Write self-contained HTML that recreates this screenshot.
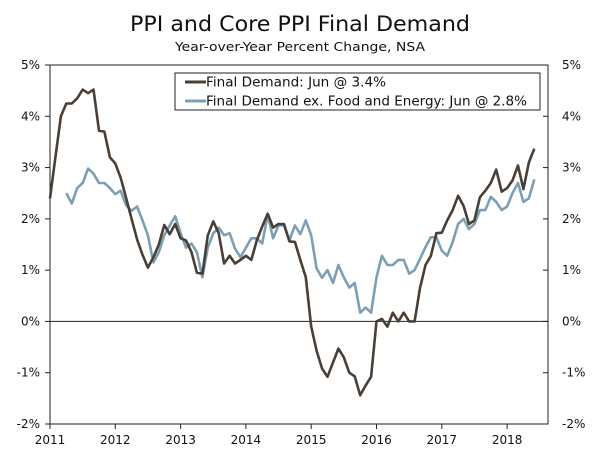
<!DOCTYPE html>
<html><head><meta charset="utf-8">
<style>
body{margin:0;background:#fff;}
svg{display:block;font-family:"DejaVu Sans","Liberation Sans",sans-serif;}
</style></head>
<body>
<svg id="chart" width="600" height="457" viewBox="0 0 600 457">
<text x="300" y="31" text-anchor="middle" font-size="21" textLength="340" lengthAdjust="spacingAndGlyphs" fill="#111">PPI and Core PPI Final Demand</text>
<text x="300" y="51" text-anchor="middle" font-size="12.5" textLength="250" lengthAdjust="spacingAndGlyphs" fill="#111">Year-over-Year Percent Change, NSA</text>
<g id="axes"></g>
<g id="series"></g>
<g>
<rect x="175" y="73" width="365" height="37" fill="#fff" stroke="#222" stroke-width="1"/>
<line x1="185" y1="82" x2="206" y2="82" stroke="#4a3f36" stroke-width="3"/>
<text x="206" y="86.5" font-size="13" textLength="180" lengthAdjust="spacingAndGlyphs" fill="#111">Final Demand: Jun @ 3.4%</text>
<line x1="185" y1="101" x2="206" y2="101" stroke="#7d9fb3" stroke-width="3"/>
<text x="206" y="105.5" font-size="13" textLength="321" lengthAdjust="spacingAndGlyphs" fill="#111">Final Demand ex. Food and Energy: Jun @ 2.8%</text>
</g>
</svg>
<script>
const years = ["2011","2012","2013","2014","2015","2016","2017","2018"];
const yTicks = [5,4,3,2,1,0,-1,-2];
const finalDemand = [
2.4,3.2,4.0,4.25,4.25,4.35,4.52,4.45,4.52,3.72,3.7,3.2,
3.08,2.8,2.4,2.0,1.6,1.3,1.05,1.25,1.5,1.88,1.7,1.9,
1.62,1.58,1.35,0.95,0.93,1.68,1.95,1.72,1.13,1.28,1.13,1.2,
1.28,1.2,1.58,1.85,2.1,1.83,1.9,1.9,1.56,1.55,1.2,0.86,
-0.1,-0.57,-0.92,-1.08,-0.8,-0.53,-0.7,-1.0,-1.07,-1.44,-1.25,-1.08,
0.0,0.05,-0.1,0.17,0.0,0.17,0.0,0.0,0.65,1.1,1.28,1.72,
1.73,1.97,2.17,2.45,2.25,1.9,1.97,2.42,2.55,2.7,2.96,2.53,
2.6,2.75,3.04,2.58,3.1,3.37];
const coreDemand = [
null,null,null,2.5,2.3,2.6,2.7,2.98,2.88,2.7,2.7,2.6,
2.48,2.55,2.26,2.16,2.24,1.97,1.68,1.15,1.35,1.68,1.87,2.05,
1.72,1.44,1.52,1.35,0.86,1.44,1.72,1.83,1.68,1.72,1.42,1.25,
1.44,1.62,1.62,1.52,2.08,1.62,1.87,1.87,1.58,1.87,1.7,1.97,
1.68,1.03,0.85,1.0,0.75,1.1,0.86,0.66,0.75,0.17,0.27,0.17,
0.86,1.28,1.1,1.1,1.2,1.2,0.93,1.0,1.22,1.45,1.64,1.64,
1.38,1.28,1.55,1.9,2.0,1.8,1.9,2.17,2.17,2.43,2.33,2.17,
2.24,2.5,2.7,2.33,2.4,2.77];

const L=50,R=548,T=65,B=424;
const yMin=-2,yMax=5;
const yScale=v=>B-(v-yMin)/(yMax-yMin)*(B-T);
const yearW=65.3;
const xScale=i=>L+i*yearW/12;
const NS="http://www.w3.org/2000/svg";
function mk(tag,attrs,parent){const e=document.createElementNS(NS,tag);for(const k in attrs)e.setAttribute(k,attrs[k]);parent.appendChild(e);return e;}
const axes=document.getElementById('axes');
const frame=mk('rect',{x:L,y:T,width:R-L,height:B-T,fill:'none',stroke:'#222','stroke-width':1},axes);


const zl=mk('line',{x1:L,x2:R,y1:yScale(0),y2:yScale(0),stroke:'#222','stroke-width':1},axes);


yTicks.forEach(v=>{
  const y=yScale(v);
  mk('line',{x1:L-5,x2:L,y1:y,y2:y,stroke:'#222'},axes);
  mk('line',{x1:R-5,x2:R,y1:y,y2:y,stroke:'#222'},axes);
  const t1=mk('text',{x:L-10,y:y+4,'text-anchor':'end','font-size':12,fill:'#111'},axes);
  t1.textContent=v+'%';
  
  
  const t2=mk('text',{x:R+14,y:y+4,'text-anchor':'start','font-size':12,fill:'#111'},axes);
  t2.textContent=v+'%';
  
  
});
years.forEach((yr,i)=>{
  const x=xScale(i*12);
  mk('line',{x1:x,x2:x,y1:B,y2:B+5,stroke:'#222'},axes);
  const t=mk('text',{x:x,y:B+20,'text-anchor':'middle','font-size':12,fill:'#111'},axes);
  t.textContent=yr;
  
  
});
function line(data,color,name){
  let d='';let started=false;
  data.forEach((v,i)=>{if(v===null)return;d+=(started?'L':'M')+xScale(i).toFixed(1)+','+yScale(v).toFixed(1);started=true;});
  const p=mk('path',{d:d,fill:'none',stroke:color,'stroke-width':2.6,'stroke-linejoin':'round'},document.getElementById('series'));
  
  
}
line(coreDemand,'#7d9fb3','core-ppi-line');
line(finalDemand,'#4a3f36','final-demand-line');
</script>
</body></html>
